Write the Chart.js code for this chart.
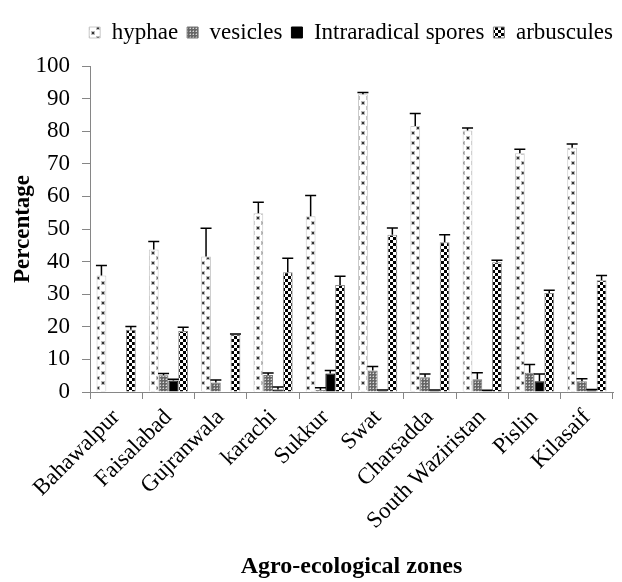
<!DOCTYPE html>
<html>
<head>
<meta charset="utf-8">
<script src="https://cdn.jsdelivr.net/npm/chart.js@4.4.1/dist/chart.umd.min.js"></script>
<style>
  html, body { margin: 0; padding: 0; background: #fff; }
  #chart { display: block; }
</style>
</head>
<body>
<canvas id="chart" width="622" height="582"></canvas>
<script>
const zones = ['Bahawalpur', 'Faisalabad', 'Gujranwala', 'karachi', 'Sukkur', 'Swat', 'Charsadda', 'South Waziristan', 'Pislin', 'Kilasaif'];
const hyphae = [35.7, 43.7, 41.6, 54.8, 53.9, 91.3, 81.6, 80.2, 73.2, 74.9];
const hyphaeErr = [3.1, 2.5, 8.6, 3.4, 6.4, 0.6, 3.8, 0.8, 1.3, 1.2];
const vesicles = [0, 5.1, 2.9, 5.2, 0.6, 6.6, 4.5, 3.9, 5.9, 3.3];
const vesiclesErr = [0, 0.6, 0.8, 0.6, 0.7, 1.2, 1.0, 2.0, 2.5, 0.8];
const spores = [0, 3.5, 0, 0.8, 5.7, 0.4, 0.4, 0.3, 3.3, 0.5];
const sporesErr = [0, 0.4, 0, 0.7, 0.9, 0.2, 0.2, 0.2, 2.2, 0.3];
const arbuscules = [19.1, 18.7, 17.6, 36.7, 32.8, 48.2, 45.9, 39.8, 30.4, 34.3];
const arbusculesErr = [1.0, 1.2, 0.2, 4.3, 2.7, 2.1, 2.3, 0.6, 0.8, 1.4];
const yTicks = [0, 10, 20, 30, 40, 50, 60, 70, 80, 90, 100];

const FONT = "'Liberation Serif', 'Times New Roman', serif";

function makePattern(w, h, draw) {
  const c = document.createElement('canvas');
  c.width = w; c.height = h;
  const g = c.getContext('2d');
  draw(g);
  return g.createPattern(c, 'repeat');
}

// sparse dots
const dotFill = makePattern(10, 10, g => {
  g.fillStyle = '#fff'; g.fillRect(0, 0, 10, 10);
  g.fillStyle = '#bbb';
  g.fillRect(1, 1, 4, 4); g.fillRect(6, 6, 4, 4);
  g.fillStyle = '#333';
  g.fillRect(2, 2, 2, 2); g.fillRect(7, 7, 2, 2);
});
// fine grey mesh
const meshFill = makePattern(3, 3, g => {
  g.fillStyle = '#666'; g.fillRect(0, 0, 3, 3);
  g.fillStyle = '#d8d8d8'; g.fillRect(1, 1, 1, 1);
  g.fillStyle = '#9a9a9a'; g.fillRect(0, 1, 1, 1); g.fillRect(1, 0, 1, 1);
});
// black/white checker
const checkFill = makePattern(6, 6, g => {
  g.fillStyle = '#fff'; g.fillRect(0, 0, 6, 6);
  g.fillStyle = '#000';
  g.fillRect(0, 0, 3, 3); g.fillRect(3, 3, 3, 3);
});

const errors = [hyphaeErr, vesiclesErr, sporesErr, arbusculesErr];

const errorBars = {
  id: 'errorBars',
  afterDatasetsDraw(chart) {
    const ctx = chart.ctx;
    const y = chart.scales.y;
    ctx.save();
    ctx.strokeStyle = '#000';
    ctx.lineWidth = 1.5;
    chart.data.datasets.forEach((ds, i) => {
      const meta = chart.getDatasetMeta(i);
      meta.data.forEach((bar, j) => {
        const e = errors[i][j];
        if (!e) return;
        const top = y.getPixelForValue(ds.data[j] + e);
        ctx.beginPath();
        ctx.moveTo(bar.x, bar.y);
        ctx.lineTo(bar.x, top);
        ctx.moveTo(bar.x - 5.5, top);
        ctx.lineTo(bar.x + 5.5, top);
        ctx.stroke();
      });
    });
    ctx.restore();
  }
};

// extra room under the legend
const legendGap = {
  id: 'legendGap',
  beforeInit(chart) {
    const fit = chart.legend.fit;
    chart.legend.fit = function () {
      fit.call(this);
      this.height += 12;
    };
  }
};

new Chart(document.getElementById('chart'), {
  type: 'bar',
  data: {
    labels: zones,
    datasets: [
      { label: 'hyphae', data: hyphae, backgroundColor: dotFill, borderColor: '#c8c8c8', borderWidth: 1 },
      { label: 'vesicles', data: vesicles, backgroundColor: meshFill, borderColor: '#777', borderWidth: 1 },
      { label: 'Intraradical spores', data: spores, backgroundColor: '#000', borderColor: '#000', borderWidth: 1 },
      { label: 'arbuscules', data: arbuscules, backgroundColor: checkFill, borderColor: '#888', borderWidth: 1 }
    ]
  },
  options: {
    responsive: false,
    animation: false,
    layout: { padding: { top: 12, right: 0, left: 0, bottom: 0 } },
    datasets: { bar: { barPercentage: 1, categoryPercentage: 0.75 } },
    plugins: {
      legend: {
        position: 'top',
        align: 'end',
        labels: {
          boxWidth: 11, boxHeight: 11, padding: 9,
          color: '#000', font: { family: FONT, size: 23 }
        }
      },
      tooltip: { enabled: false }
    },
    scales: {
      x: {
        grid: { drawOnChartArea: false, drawTicks: true, tickLength: 7, color: '#868686', offset: true },
        border: { color: '#868686', width: 1 },
        ticks: { color: '#000', font: { family: FONT, size: 23 }, minRotation: 45, maxRotation: 45, padding: 5, autoSkip: false },
        title: {
          display: true, text: 'Agro-ecological zones', color: '#000',
          font: { family: FONT, size: 24, weight: 'bold', lineHeight: 1.2 },
          padding: { top: 0, bottom: 1 }
        },
        afterFit(scale) { scale.height = 190; }
      },
      y: {
        min: 0, max: 100,
        afterBuildTicks(scale) { scale.ticks = yTicks.map(v => ({ value: v })); },
        grid: { drawOnChartArea: false, drawTicks: true, tickLength: 8, color: '#868686' },
        border: { color: '#868686', width: 1 },
        ticks: { color: '#000', font: { family: FONT, size: 23 }, padding: 12, autoSkip: false },
        title: {
          display: true, text: 'Percentage', color: '#000',
          font: { family: FONT, size: 23, weight: 'bold', lineHeight: 1.2 },
          padding: { top: 9, bottom: 0 }
        },
        afterFit(scale) { scale.width = 90; }
      },
      // empty strip on the right so the legend can run past the plot edge
      gap: {
        position: 'right', min: 0, max: 1,
        grid: { display: false }, border: { display: false }, ticks: { display: false },
        afterFit(scale) { scale.width = 9; }
      }
    }
  },
  plugins: [errorBars, legendGap]
});
</script>
</body>
</html>
